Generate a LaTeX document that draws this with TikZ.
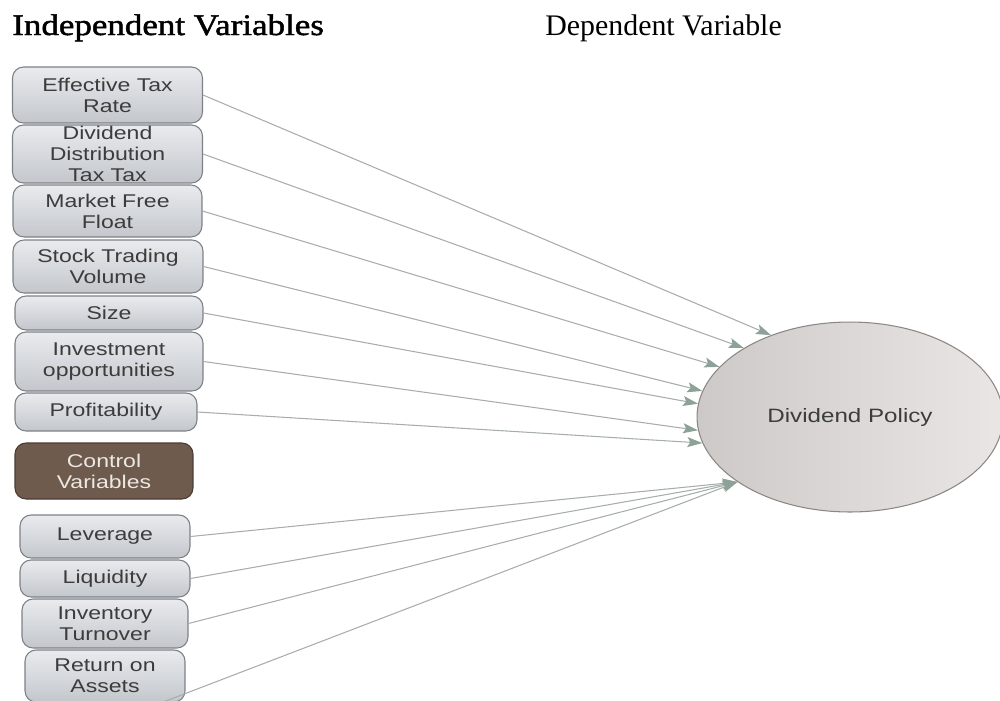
\documentclass[tikz,border=0pt]{standalone}
\usepackage{fontspec}
\usepackage{tikz}
\usetikzlibrary{shapes.geometric,arrows.meta}
\setmainfont{Liberation Serif}
\newfontfamily\boxfont[FakeStretch=1.25]{Liberation Sans}
\newfontfamily\indepfont[FakeStretch=1.17,FakeBold=1.6]{Liberation Serif}
\definecolor{boxtop}{HTML}{E9EBEE}
\definecolor{boxbot}{HTML}{C3C7CC}
\definecolor{boxline}{HTML}{7C8187}
\definecolor{boxtext}{HTML}{3C3C3C}
\definecolor{ctrlfill}{HTML}{6E5B4E}
\definecolor{ctrlline}{HTML}{4A3B31}
\definecolor{ctrltext}{HTML}{ECE8E4}
\definecolor{ellfill}{HTML}{DAD6D4}
\definecolor{ellline}{HTML}{8C8783}
\definecolor{arrline}{HTML}{A6AEAB}
\definecolor{arrhead}{HTML}{8DA198}

\begin{document}
\begin{tikzpicture}[x=0.02cm, y=-0.02cm,
  var/.style={rectangle, rounded corners=2.2mm, draw=boxline, line width=0.6pt, top color=boxtop, bottom color=boxbot, text=boxtext, font=\boxfont\fontsize{10.5}{12}\selectfont, align=center, inner sep=0pt, minimum width=38mm},
  ctrl/.style={var, top color=ctrlfill, bottom color=ctrlfill, draw=ctrlline, text=ctrltext},
  title/.style={anchor=base west, inner sep=0pt, font=\fontsize{17}{20}\selectfont},
  link/.style={draw=arrline, line width=0.6pt, -{Stealth[length=3mm, width=2mm, inset=0.6mm, fill=arrhead, color=arrhead]}}]
\useasboundingbox (0,0) rectangle (1000,700);
\node[title, font=\indepfont\fontsize{17}{20}\selectfont] (indep) at (12,35) {Independent Variables};
\node[title] (dep) at (545,35) {Dependent Variable};
\node[var, minimum height=11.2mm] (etr) at (107.5,95) {Effective Tax\\Rate};
\node[var, minimum height=11.6mm] (ddt) at (107.5,154) {Dividend\\Distribution\\Tax Tax};
\node[var, minimum width=37.8mm, minimum height=10.4mm] (mff) at (107.5,211) {Market Free\\Float};
\node[var, minimum height=10.6mm] (stv) at (108,266.5) {Stock Trading\\Volume};
\node[var, minimum width=37.6mm, minimum height=6.8mm] (size) at (109,313) {Size};
\node[var, minimum width=37.6mm, minimum height=11.8mm] (inv) at (109,361.5) {Investment\\opportunities};
\node[var, minimum width=36.4mm, minimum height=7.6mm] (prof) at (106,412) {Profitability};
\node[ctrl, minimum width=35.6mm, minimum height=11.2mm] (ctrl) at (104,471) {Control\\Variables};
\node[var, minimum width=34mm, minimum height=8.6mm] (lev) at (105,536.5) {Leverage};
\node[var, minimum width=34mm, minimum height=7.4mm] (liq) at (105,578.5) {Liquidity};
\node[var, minimum width=33.2mm, minimum height=9.8mm] (invt) at (105,623.5) {Inventory\\Turnover};
\node[var, minimum width=32mm, minimum height=10.4mm] (roa) at (105,676) {Return on\\Assets};
\node[ellipse, draw=ellline, line width=0.6pt, left color=ellfill!85!gray, right color=ellfill!60!white, inner sep=0pt, minimum width=61.2mm, minimum height=38mm, text=boxtext, font=\boxfont\fontsize{11}{13}\selectfont] (dp) at (850,417) {Dividend Policy};
\draw[link] (etr.east) -- (dp.134);
\draw[link] (ddt.east) -- (dp.147);
\draw[link] (mff.east) -- (dp.159);
\draw[link] (stv.east) -- (dp.170);
\draw[link] (size.east) -- (dp.175);
\draw[link] (inv.east) -- (dp.185);
\draw[link] (prof.east) -- (dp.190);
\draw[link] (lev.east) -- (dp.210);
\draw[link] (liq.east) -- (dp.210);
\draw[link] (invt.east) -- (dp.210);
\draw[link] (roa.-25) -- (dp.210);
\end{tikzpicture}
\end{document}
